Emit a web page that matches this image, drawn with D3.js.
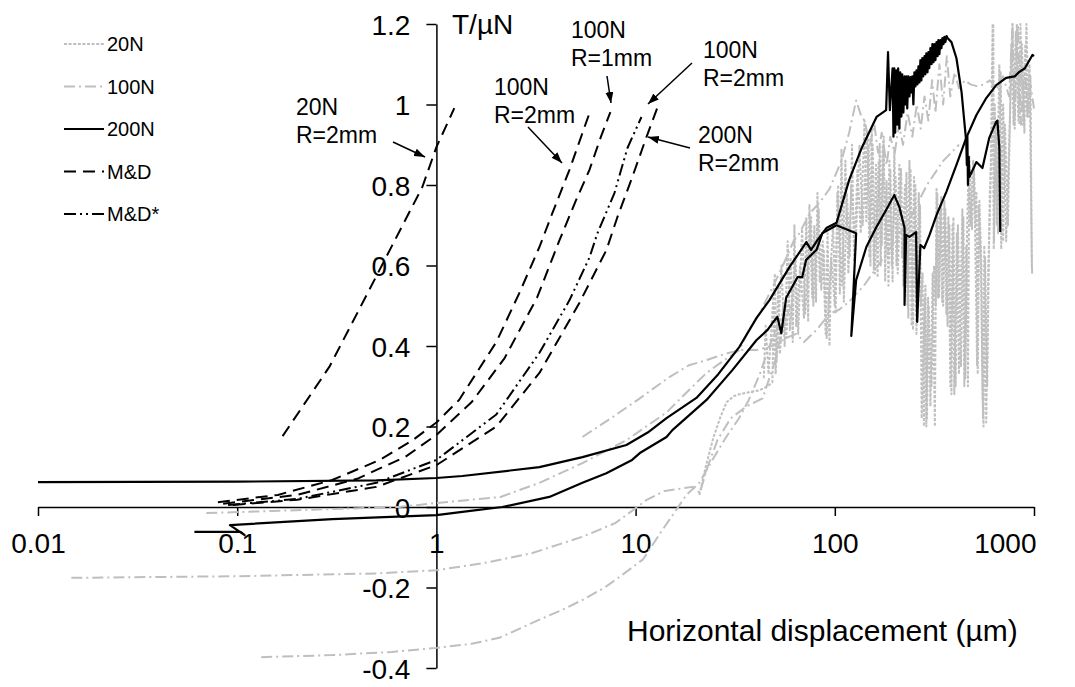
<!DOCTYPE html>
<meta charset="utf-8">
<style>
body { margin: 0; background: #fff; }
text { font-family: "Liberation Sans", Arial, sans-serif; fill: #000; }
.axis path, .axis line { stroke: #000; stroke-width: 1.5px; }
</style>
<svg width="1075" height="687"></svg>
<script src="https://d3js.org/d3.v7.min.js"></script>
<script>
// ---- data (x in µm, y = T/µN) ----
const xTicks = [0.01, 0.1, 1, 10, 100, 1000];
const yTicks = [-0.4, -0.2, 0, 0.2, 0.4, 0.6, 0.8, 1, 1.2];

// Mindlin-Deresiewicz predictions
const md20R2 = [[0.169,0.176],[0.29,0.348],[0.45,0.53],[0.6,0.65],[0.85,0.795],[1.0,0.894],[1.23,0.991]];
const md100R2 = [[0.08,0.012],[0.16,0.03],[0.3,0.067],[0.52,0.117],[0.76,0.166],[1,0.21],[1.3,0.266],[2,0.41],[2.6,0.53],[3.29,0.646],[3.82,0.73],[4.65,0.837],[5.87,0.979]];
const md100R1 = [[0.085,0.008],[0.2,0.03],[0.4,0.07],[0.7,0.125],[1,0.179],[1.5,0.26],[2.2,0.37],[3.2,0.52],[4.15,0.663],[5.0,0.76],[5.86,0.837],[6.7,0.92],[7.47,0.981]];
const mdStar100R2 = [[0.09,0.005],[0.2,0.02],[0.5,0.06],[1,0.117],[2,0.23],[3.29,0.383],[4.66,0.514],[5.87,0.62],[6.43,0.68],[7.83,0.78],[9.1,0.892],[10.7,0.969]];
const md200R2 = [[0.095,0.005],[0.2,0.018],[0.5,0.05],[1,0.104],[2,0.2],[3.29,0.333],[5.22,0.507],[7.13,0.638],[8.1,0.72],[9.5,0.812],[11.3,0.917],[12.9,0.994]];

// 200N test (two branches)
const n200a = [[0.01,0.062],[0.1,0.063],[0.5,0.066],[1,0.072],[1.35,0.077],[3.29,0.099],[5.41,0.124],[8.99,0.154],[11.5,0.185],[14.3,0.221],[20.2,0.271],[26,0.33],[33.2,0.398],[40.5,0.47],[47,0.514],[59.2,0.596],[72,0.658],[76,0.639],[81.8,0.663],[90.7,0.693],[102,0.706],[118,0.812],[137,0.894],[162,0.969],[181,0.986],[185,1.13],[189,0.986],
  [195,1.09],[197,0.92],[199,1.09],[201,0.93],[204,1.085],[206,0.95],[208,1.09],[211,0.94],[213,1.08],[216,0.97],[218,1.075],[221,0.98],[224,1.07],[226,1.0],[229,1.07],[231,0.99],[234,1.07],[237,1.02],[240,1.068],[242,1.03],[245,1.07],[248,1.0],[251,1.08],[254,1.045],[257,1.085],[260,1.05],[263,1.095],[266,1.055],[269,1.11],[272,1.06],[275,1.115],[278,1.07],[282,1.12],[285,1.075],[288,1.127],[292,1.08],[295,1.13],[298,1.09],[302,1.14],[306,1.1],[309,1.15],[313,1.105],[316,1.15],[320,1.11],[324,1.155],[328,1.12],[331,1.16],[335,1.125],[339,1.16],[343,1.14],[347,1.165],[351,1.15],[355,1.168],[359,1.155],[364,1.17],[368,1.165],
  [385,1.155],[408,1.115],[433,1.03],[447,0.957],[457,0.907],[460,0.85],[463,0.92],[466,0.8],[470,0.87],[474,0.82],[514,0.857],[551,0.842],[596,0.917],[646,0.957],[655,0.96],[670,0.892],[677,0.683]];
const n200b = [[0.061,-0.062],[0.104,-0.062],[0.109,-0.07],[0.092,-0.045],[0.3,-0.03],[1,-0.02],[1.35,-0.012],[2.14,0],[3.69,0.025],[5.41,0.06],[7.13,0.084],[9.6,0.117],[10.5,0.134],[14.3,0.174],[15.3,0.191],[22.7,0.266],[30.6,0.34],[40.5,0.415],[46,0.44],[48.6,0.457],[51.5,0.472],[53.9,0.432],[57,0.52],[65,0.571],[68.6,0.571],[71.8,0.614],[81,0.639],[86.5,0.68],[102,0.70],[128,0.68],[121,0.425],[128,0.564],[144,0.646],[162,0.696],[181,0.738],[199,0.775],[211,0.745],[224,0.693],[224,0.502],[228,0.676],[237,0.671],[256,0.683],[259,0.46],[269,0.651],[281,0.643],[299,0.676],[324,0.725],[363,0.783],[408,0.85],[457,0.917],[514,0.974],[576,1.016],[646,1.048],[725,1.066],[800,1.07],[845,1.081],[900,1.09],[982,1.123],[1000,1.12]];

// 100N test (several branches)
const n100a = [[0.0147,-0.176],[0.1,-0.172],[0.5,-0.165],[1,-0.157],[1.7,-0.14],[3.0,-0.115],[5.41,-0.074],[7.9,-0.04],[10.2,0.0],[11.3,0.017],[14,0.04],[19.3,0.05],[21,0.035],[23,0.1],[25.8,0.167],[30,0.22],[36,0.25],[43.4,0.27],[50,0.36],[55,0.45],[60,0.5]];
const n100b = [[0.132,-0.373],[0.3,-0.368],[0.6,-0.36],[1,-0.35],[1.5,-0.34],[2.07,-0.325],[3.29,-0.28],[4.3,-0.255],[5.41,-0.231],[7,-0.2],[8.5,-0.17],[10.9,-0.13],[13.5,-0.06],[16,-0.007],[18,0.03],[20.9,0.06],[24.5,0.12],[28.5,0.174],[33,0.22],[37,0.266],[42,0.33],[47,0.4],[52.7,0.46],[57,0.5]];
const n100c = [[0.07,-0.015],[0.15,-0.01],[0.3,-0.005],[0.65,0.0],[1,0.01],[2.1,0.025],[3.29,0.06],[5.41,0.109],[9,0.166],[14.3,0.235],[18.5,0.29],[22.7,0.333],[27,0.36],[33.2,0.39],[37,0.44],[41.8,0.48],[48.6,0.545],[56,0.61],[62,0.66],[66.4,0.68],[75,0.73],[85,0.76],[94,0.79],[108,0.86],[118,0.93],[128,1.01],[136,0.97],
  [141,0.96],[150,0.90],[158,0.95],[165,0.88],[172,0.93],[182,0.85],[190,0.92],[200,0.88],[210,0.95],[220,0.9],[232,0.98],[245,0.92],[258,1.0],[270,0.94],[282,1.02],[295,0.96],[308,1.06],[320,0.98],[335,1.1],[350,1.0],[365,1.12],[380,1.02],[400,1.08],[420,1.04],[450,1.06],[480,1.05],[520,1.045],[560,1.05],[600,1.06],[650,1.04],[700,1.07],[750,1.02],[780,1.2],[800,0.97],[830,1.2],[860,0.95],[900,1.1],[930,0.97],[960,1.05],[1000,0.99]];
const n100d = [[5.41,0.174],[7.5,0.22],[10.5,0.27],[14.5,0.32],[18.5,0.352],[22.7,0.365],[28,0.38],[33.2,0.39],[40.5,0.39],[48.6,0.40],[57,0.42],[64,0.43],[70,0.41],[81,0.44],[94,0.48],[105,0.49],[118,0.51],[140,0.55],[165,0.6],[200,0.66],[240,0.72],[290,0.8],[350,0.86],[420,0.9]];

// 20N test (two passes)
const n20a = [[20.9,0.03],[22.5,0.1],[24.5,0.17],[26.5,0.22],[28.6,0.26],[31,0.275],[33.2,0.28],[37,0.285],[41.8,0.29],[46,0.30],[48.6,0.31],[49.5,0.5],[50.5,0.33],[52,0.55],[53,0.38],[55,0.5],[57,0.42],[60,0.62],[61.5,0.41],[62.7,0.70],[64,0.45],[67,0.6],[70,0.47],[72,0.72],[73.5,0.46],[74.6,0.75],[77,0.52],[79,0.70],[80.5,0.51],[81.8,0.78],[84,0.56],[87,0.66],[90,0.43],[92,0.68],[94,0.40],[96,0.62],[100,0.5],[104,0.80],[106,0.53],[108,0.89],[111,0.51],[115,0.78],[119,0.62],[122,0.9],[125,0.61],[130,0.84],[135,0.68],[141,0.96],[144,0.71],[148,0.9],[151,0.6],[153,0.94],[157,0.59],[161,0.85],[164,0.57],[168,0.9],[172,0.65],[176,0.92],[179,0.56],[182,0.81],[186,0.55],[190,0.84],[195,0.56],[199,0.89],[204,0.6],[211,0.85],[218,0.62],[225,0.8],[232,0.5],[237,0.86],[243,0.45],[250,0.82],[257,0.43],[264,0.78],[270,0.5],[276,0.58],[280,0.2],[285,0.55],[290,0.22],[296,0.5],[302,0.25],[310,0.58],[318,0.2],[324,0.79],[330,0.52],[338,0.75],[346,0.51],[355,0.76],[363,0.48],[372,0.72],[380,0.3],[390,0.7],[398,0.28],[410,0.68],[420,0.33],[437,0.74],[447,0.3],[457,0.65],[466,0.3],[474,0.87],[488,0.69],[500,0.84],[510,0.7],[514,0.78],[522,0.33],[532,0.76],[545,0.6],[551,0.29],[558,0.2],[563,0.65],[576,0.21],[590,0.6],[605,0.8],[620,1.2],[628,0.64],[635,1.0],[650,0.7],[670,1.1],[685,0.64],[700,1.0],[725,0.66],[750,0.9],[780,1.2],[800,0.94],[820,1.2],[845,0.95],[870,1.15],[895,0.93],[916,1.2],[940,0.97],[960,1.07],[975,0.6],[982,0.58]];
const n20b = [[44,0.32],[45,0.45],[46.5,0.33],[50,0.58],[51,0.36],[54,0.6],[56,0.40],[58,0.66],[59.5,0.44],[63.5,0.62],[65.5,0.43],[68.5,0.69],[71,0.48],[76,0.72],[78,0.50],[83,0.74],[85.5,0.54],[88,0.64],[91,0.42],[98,0.7],[101,0.48],[103,0.78],[109,0.55],[113,0.86],[117,0.58],[121,0.8],[127,0.64],[133,0.9],[138,0.7],[146,0.93],[149,0.62],[155,0.9],[159,0.58],[166,0.86],[170,0.6],[174,0.9],[184,0.62],[188,0.86],[193,0.6],[202,0.82],[207,0.58],[215,0.84],[221,0.55],[229,0.83],[234,0.47],[240,0.84],[247,0.44],[254,0.8],[260,0.46],[268,0.75],[273,0.22],[283,0.52],[288,0.2],[294,0.52],[306,0.3],[315,0.6],[321,0.5],[327,0.78],[334,0.52],[342,0.77],[350,0.5],[359,0.74],[368,0.45],[376,0.7],[385,0.28],[394,0.72],[404,0.3],[415,0.7],[430,0.35],[442,0.72],[452,0.32],[462,0.7],[470,0.85],[480,0.7],[495,0.86],[505,0.72],[518,0.35],[527,0.75],[540,0.62],[555,0.22],[568,0.62],[582,0.3],[600,0.78],[615,0.9],[625,1.2],[630,0.66],[645,0.95],[660,0.68],[680,1.08],[700,0.66],[715,0.95],[740,0.7],[770,1.15],[790,0.95],[810,1.18],[835,0.96],[855,1.2],[880,0.95],[905,1.15],[925,0.97],[950,1.1],[970,0.7],[978,0.58]];

const legendNames = ["20N", "100N", "200N", "M&D", "M&D*"];
const legendKeys = ["n20", "n100", "n200", "md", "mdStar"];

// ---- styles ----
const styles = {
  n20:    {stroke: "#bfbfbf", dash: "3,1.6", width: 2},
  n100:   {stroke: "#bfbfbf", dash: "11,4,2,4", width: 2},
  n200:   {stroke: "#000", dash: null, width: 2.2},
  md:     {stroke: "#000", dash: "12,7", width: 2},
  mdStar: {stroke: "#000", dash: "12,4,2,4,2,4", width: 2}
};

const series = [
  {key: "n20", data: n20a},
  {key: "n20", data: n20b},
  {key: "n100", data: n100a},
  {key: "n100", data: n100b},
  {key: "n100", data: n100c},
  {key: "n100", data: n100d},
  {key: "n200", data: n200a},
  {key: "n200", data: n200b},
  {key: "md", data: md20R2},
  {key: "md", data: md100R2},
  {key: "md", data: md100R1},
  {key: "mdStar", data: mdStar100R2},
  {key: "md", data: md200R2}
];

const svg = d3.select("svg");
svg.append("rect").attr("width", 1075).attr("height", 687).attr("fill", "#fff");

const x = d3.scaleLog().domain([0.01, 1000]).range([38, 1034]);
const y = d3.scaleLinear().domain([-0.4, 1.2]).range([668, 24]);

svg.append("defs").append("marker")
    .attr("id", "arrow")
    .attr("markerUnits", "userSpaceOnUse")
    .attr("markerWidth", 12).attr("markerHeight", 10)
    .attr("refX", 11).attr("refY", 4)
    .attr("orient", "auto")
  .append("path")
    .attr("d", "M0,0L11,4L0,8Z")
    .attr("fill", "#000");

// axes
const xAxis = svg.append("g")
    .attr("class", "axis")
    .attr("transform", `translate(0,${y(0)})`)
    .call(d3.axisBottom(x).tickValues(xTicks).tickSize(9).tickSizeOuter(0).tickPadding(17).tickFormat(d => String(d)));
xAxis.selectAll("text").attr("font-size", 28);
xAxis.selectAll(".tick").filter(d => d === 1000).select("text").attr("text-anchor", "end").attr("x", 2);

const yAxis = svg.append("g")
    .attr("class", "axis")
    .attr("transform", `translate(${x(1)},0)`)
    .call(d3.axisLeft(y).tickValues(yTicks).tickSize(10).tickSizeOuter(0).tickPadding(16).tickFormat(d => String(d)));
yAxis.selectAll("text").attr("font-size", 28).attr("dy", "0.36em");
svg.selectAll(".axis text").style("font-family", "'Liberation Sans', Arial, sans-serif");

// lines
const line = d3.line().x(d => x(d[0])).y(d => y(d[1]));
svg.append("g").selectAll("path")
  .data(series)
  .join("path")
    .attr("d", d => line(d.data))
    .attr("fill", "none")
    .attr("stroke", d => styles[d.key].stroke)
    .attr("stroke-width", d => styles[d.key].width)
    .attr("stroke-dasharray", d => styles[d.key].dash)
    .attr("stroke-linejoin", "round");

// axis titles
svg.append("text").attr("x", 452).attr("y", 34).attr("font-size", 28).text("T/µN");
svg.append("text").attr("x", 627).attr("y", 641).attr("font-size", 30).text("Horizontal displacement (µm)");

// legend
const leg = svg.append("g").selectAll("g")
  .data(legendKeys)
  .join("g")
    .attr("transform", (d, i) => `translate(64,${44 + i * 42.5})`);
leg.append("line")
    .attr("x1", 0).attr("x2", 40)
    .attr("stroke", d => styles[d].stroke)
    .attr("stroke-width", d => styles[d].width)
    .attr("stroke-dasharray", d => styles[d].dash);
leg.append("text")
    .attr("x", 43).attr("y", 7)
    .attr("font-size", 20)
    .text((d, i) => legendNames[i]);

// annotations
const notes = [
  {lines: ["20N", "R=2mm"], tx: 296, ty: 115, from: [393, 142], to: [425, 157]},
  {lines: ["100N", "R=2mm"], tx: 494, ty: 95, from: [528, 127], to: [562, 163]},
  {lines: ["100N", "R=1mm"], tx: 571, ty: 38, from: [607, 76], to: [611, 103]},
  {lines: ["100N", "R=2mm"], tx: 703, ty: 58, from: [692, 63], to: [648, 104]},
  {lines: ["200N", "R=2mm"], tx: 698, ty: 143, from: [690, 148], to: [648, 137]}
];
const ng = svg.append("g");
notes.forEach(n => {
  ng.append("text")
      .attr("x", n.tx).attr("y", n.ty)
      .attr("font-size", 23)
    .selectAll("tspan")
    .data(n.lines)
    .join("tspan")
      .attr("x", n.tx)
      .attr("dy", (d, i) => i ? 28 : 0)
      .text(d => d);
  ng.append("line")
      .attr("x1", n.from[0]).attr("y1", n.from[1])
      .attr("x2", n.to[0]).attr("y2", n.to[1])
      .attr("stroke", "#000").attr("stroke-width", 1.5)
      .attr("marker-end", "url(#arrow)");
});
</script>
